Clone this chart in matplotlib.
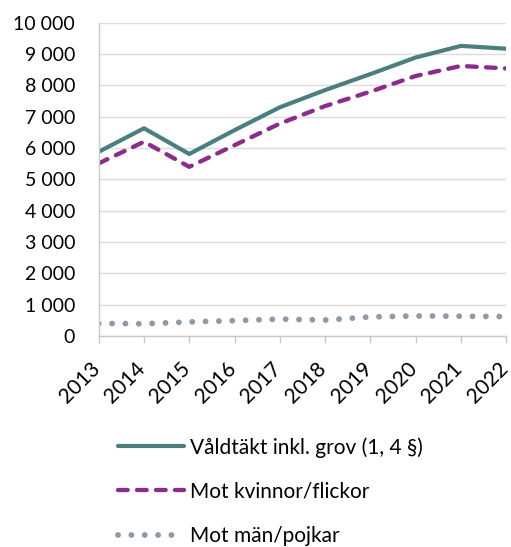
import matplotlib.pyplot as plt
from matplotlib.ticker import FuncFormatter
from matplotlib.transforms import ScaledTranslation

plt.rcParams['font.family'] = ['Lato', 'DejaVu Sans']

# Data
years = [2013, 2014, 2015, 2016, 2017, 2018, 2019, 2020, 2021, 2022]
total = [5880, 6630, 5810, 6570, 7300, 7850, 8360, 8890, 9260, 9170]
women = [5510, 6200, 5400, 6090, 6780, 7340, 7800, 8300, 8620, 8540]
men = [400, 390, 450, 490, 540, 510, 610, 640, 630, 620]

labels = ['Våldtäkt inkl. grov (1, 4 §)', 'Mot kvinnor/flickor', 'Mot män/pojkar']
colors = ['#4a7f7e', '#8b2b8b', '#8e9aa5']
yticks = list(range(0, 10001, 1000))

fig = plt.figure(figsize=(5.11, 5.47), dpi=100)
ax = fig.add_axes([98.7 / 511, 1 - 336 / 547, (506.3 - 98.7) / 511, (336 - 22.7) / 547])

ax.plot(years, total, color=colors[0], lw=3, solid_capstyle='round', label=labels[0])
ax.plot(years, women, color=colors[1], lw=3.1, linestyle=(0, (2.25, 2.16)), dash_capstyle='round',
        label=labels[1])
ax.plot(years, men, color=colors[2], lw=4.2, linestyle=(0, (0.01, 2.28)), dash_capstyle='round',
        label=labels[2])

ax.set_xlim(2013, 2022)
ax.set_ylim(0, 10000)
ax.set_yticks(yticks)
ax.yaxis.set_major_formatter(FuncFormatter(lambda v, p: f'{int(v):,}'.replace(',', ' ')))
ax.set_xticks(years)
ax.set_xticklabels([str(y) for y in years], rotation=45, ha='right', va='baseline',
                   rotation_mode='anchor')

ax.grid(axis='y', color='#dcdcdc', lw=1)
ax.set_axisbelow(True)
for side in ['top', 'right']:
    ax.spines[side].set_visible(False)
for side in ['left', 'bottom']:
    ax.spines[side].set_color('#c8c8c8')
    ax.spines[side].set_linewidth(1)

ax.tick_params(axis='y', length=0, pad=17, labelsize=14, colors='black')
ax.tick_params(axis='x', length=5, width=1, color='#c8c8c8', pad=19, labelsize=15)
shift = ScaledTranslation(2.5 / 100, 0, fig.dpi_scale_trans)
for lbl in ax.get_xticklabels():
    lbl.set_transform(lbl.get_transform() + shift)

fig.legend(loc='upper left', bbox_to_anchor=(118 / 511, 1 - 437 / 547), frameon=False,
           fontsize=15, handlelength=3.15, handletextpad=0.3, labelspacing=1.16,
           borderpad=0, borderaxespad=0)

fig.savefig('out.png', dpi=100)
